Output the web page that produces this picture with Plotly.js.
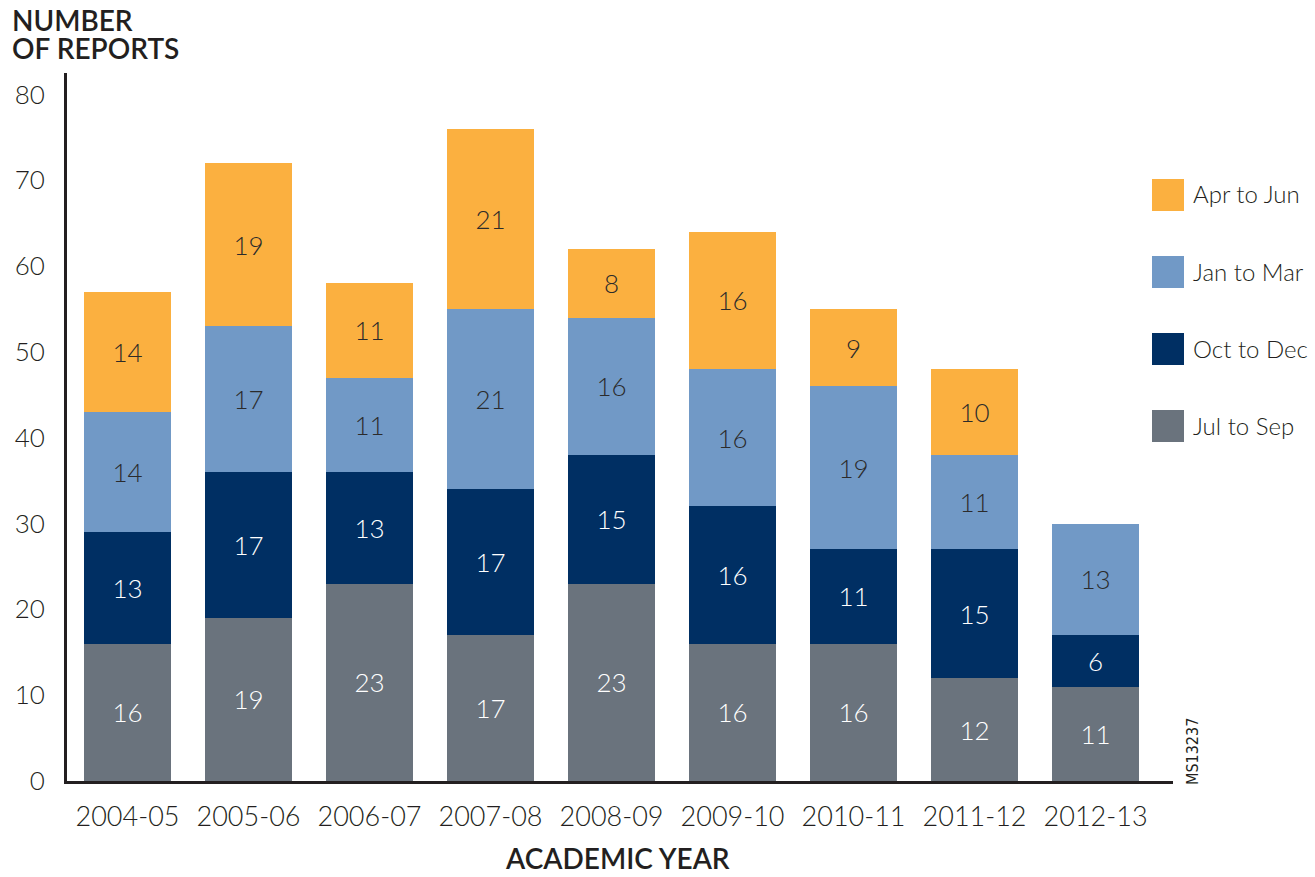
<!DOCTYPE html>
<html>
<head>
<meta charset="utf-8">
<script src="https://cdn.plot.ly/plotly-3.0.1.min.js"></script>
<style>
  html, body { margin: 0; padding: 0; background: #fff; }
  #chart { width: 1315px; height: 877px; }
</style>
</head>
<body>
<div id="chart"></div>
<script>
// ---- data ----
const years = ["2004-05", "2005-06", "2006-07", "2007-08", "2008-09", "2009-10", "2010-11", "2011-12", "2012-13"];
const julToSep = [16, 19, 23, 17, 23, 16, 16, 12, 11];
const octToDec = [13, 17, 13, 17, 15, 16, 11, 15, 6];
const janToMar = [14, 17, 11, 21, 16, 16, 19, 11, 13];
const aprToJun = [14, 19, 11, 21, 8, 16, 9, 10, null];
const seriesNames = ["Jul to Sep", "Oct to Dec", "Jan to Mar", "Apr to Jun"];
const yTicks = [0, 10, 20, 30, 40, 50, 60, 70, 80];

// ---- style ----
const colors = ["#6a737d", "#002f63", "#7199c6", "#fbb040"];
const textColors = ["#ffffff", "#ffffff", "#2b2b2b", "#2b2b2b"];
const FONT = "Lato, 'Open Sans', sans-serif";
const INK = "#231f20";
const LIGHT = 300;

const W = 1315, H = 877;
const M = { l: 67, r: 142, t: 73, b: 96 };
const pw = W - M.l - M.r, ph = H - M.t - M.b;
const px2x = px => (px - M.l) / pw;
const px2y = py => (H - M.b - py) / ph;

const values = [julToSep, octToDec, janToMar, aprToJun];
const traces = values.map((v, i) => ({
  type: "bar",
  name: seriesNames[i],
  x: years,
  y: v,
  marker: { color: colors[i], line: { width: 0 } },
  text: v.map(d => d == null ? "" : String(d)),
  textposition: "inside",
  insidetextanchor: "middle",
  constraintext: "none",
  textfont: { family: FONT, size: 26, color: textColors[i], weight: LIGHT },
  hoverinfo: "x+y+name",
  showlegend: false
}));

// custom legend (top to bottom: Apr to Jun, Jan to Mar, Oct to Dec, Jul to Sep)
const shapes = [];
const annotations = [];
const order = [3, 2, 1, 0];
order.forEach((si, k) => {
  const top = 179 + k * 77;
  shapes.push({
    type: "rect", xref: "paper", yref: "paper",
    x0: px2x(1152), x1: px2x(1184), y0: px2y(top + 32), y1: px2y(top),
    fillcolor: colors[si], line: { width: 0 }
  });
  annotations.push({
    xref: "paper", yref: "paper", x: px2x(1191), y: px2y(top + 15),
    xanchor: "left", yanchor: "middle", showarrow: false,
    text: seriesNames[si], font: { family: FONT, size: 24, color: INK, weight: LIGHT }
  });
});

const titleFont = { family: FONT, size: 28, color: INK, weight: 600 };
annotations.push({
  xref: "paper", yref: "paper", x: px2x(10), y: px2y(20),
  xanchor: "left", yanchor: "middle", showarrow: false,
  text: "NUMBER", font: titleFont
});
annotations.push({
  xref: "paper", yref: "paper", x: px2x(10), y: px2y(48),
  xanchor: "left", yanchor: "middle", showarrow: false,
  text: "OF REPORTS", font: titleFont
});
annotations.push({
  xref: "paper", yref: "paper", x: px2x(617), y: px2y(858),
  xanchor: "center", yanchor: "middle", showarrow: false,
  text: "ACADEMIC YEAR",
  font: { family: FONT, size: 28, color: INK, weight: 600 }
});
annotations.push({
  xref: "paper", yref: "paper", x: px2x(1192), y: px2y(752),
  xanchor: "center", yanchor: "middle", showarrow: false, textangle: -90,
  text: "MS13237",
  font: { family: "'Liberation Sans Narrow', 'DejaVu Sans Condensed', sans-serif", size: 16, color: INK }
});

const layout = {
  width: W, height: H,
  margin: M,
  paper_bgcolor: "#fff", plot_bgcolor: "#fff",
  barmode: "stack",
  bargap: 0.28,
  showlegend: false,
  font: { family: FONT, color: INK },
  xaxis: {
    type: "category",
    range: [-0.5, 8.64],
    showline: true, linecolor: INK, linewidth: 3,
    ticks: "", showgrid: false, zeroline: false,
    tickfont: { family: FONT, size: 27, color: INK, weight: LIGHT },
    ticklabelstandoff: 10
  },
  yaxis: {
    range: [0, 82.5],
    tickvals: yTicks, ticktext: yTicks.map(String),
    showline: true, linecolor: INK, linewidth: 3,
    ticks: "", showgrid: false, zeroline: false,
    tickfont: { family: FONT, size: 26, color: INK, weight: LIGHT },
    ticklabelstandoff: 14
  },
  shapes: shapes,
  annotations: annotations
};

Plotly.newPlot("chart", traces, layout, { displayModeBar: false, staticPlot: true });
</script>
</body>
</html>
